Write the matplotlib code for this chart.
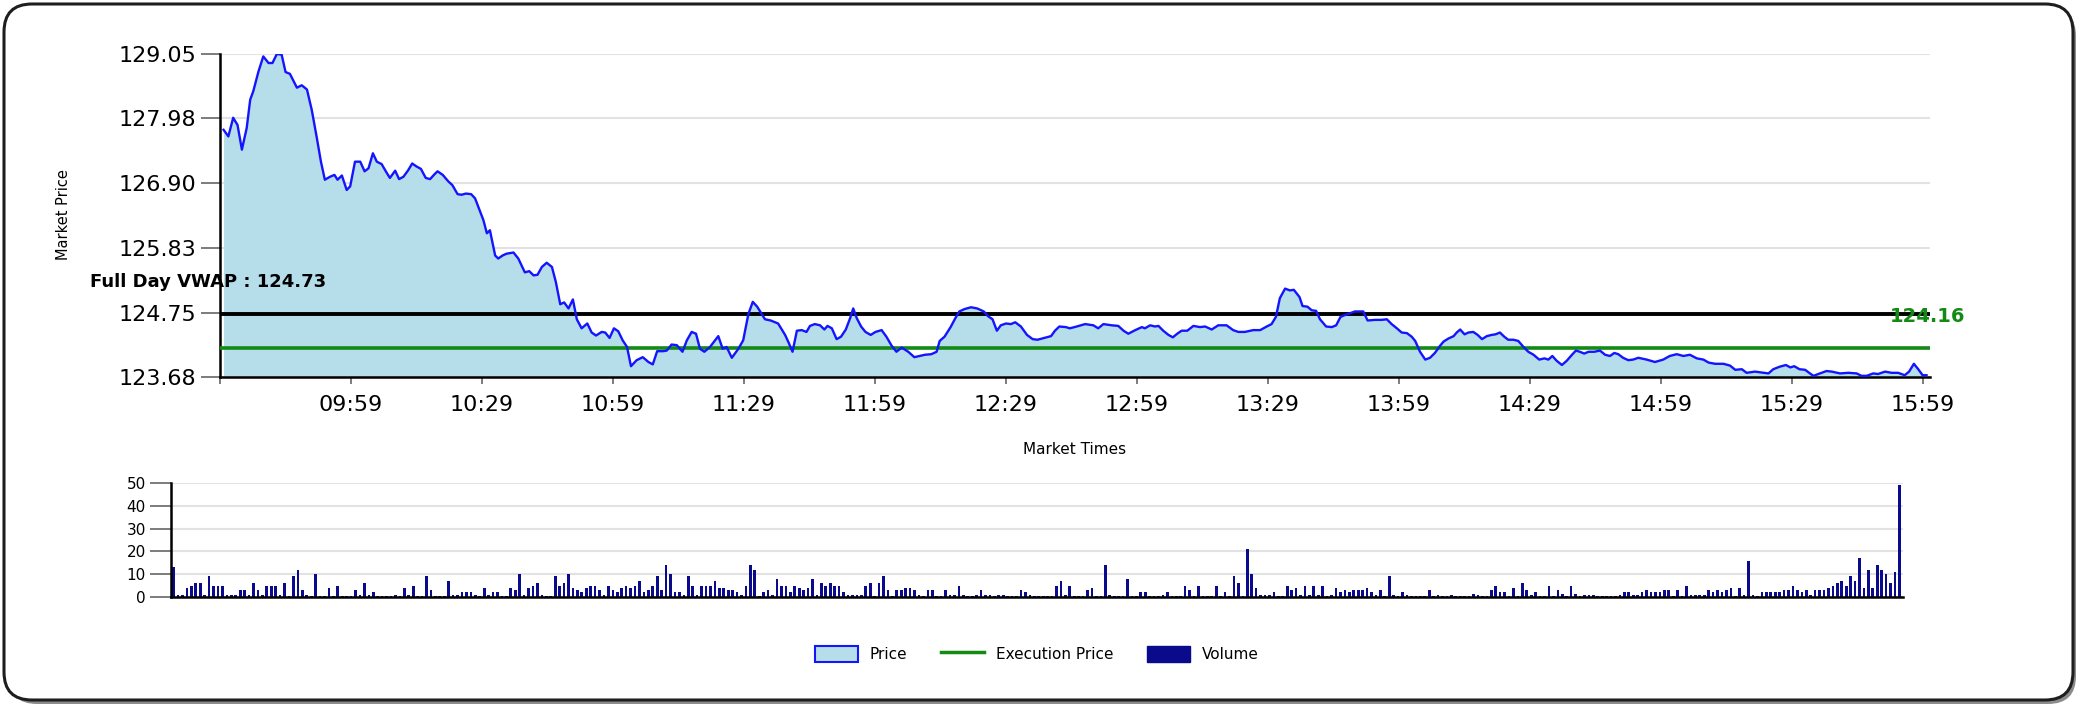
import matplotlib
matplotlib.use("Agg")
import matplotlib.pyplot as plt
from matplotlib.patches import FancyBboxPatch, Patch
from matplotlib.lines import Line2D

# price: minutes after 09:29 and market price
price_t = [0.8, 1.9, 3.0, 4.0, 5.0, 6.1, 6.9, 7.6, 8.8, 9.9, 11.1, 12.0, 13.0, 14.1, 15.0, 16.0, 17.6, 18.7,
           19.9, 21.0, 22.1, 23.1, 24.0, 25.2, 26.2, 26.9, 27.9, 29.0, 29.8, 30.9, 32.1, 33.1, 34.0, 35.0,
           35.9, 37.0, 38.2, 38.9, 40.1, 41.0, 42.0, 43.1, 44.0, 45.0, 46.0, 47.1, 48.1, 49.1, 49.8, 51.0,
           52.3, 53.2, 54.4, 55.3, 56.3, 57.5, 58.4, 59.3, 60.3, 61.1, 61.8, 63.0, 63.7, 64.7,
           65.6, 67.2, 68.3, 69.8, 70.8, 71.8, 72.7, 73.7, 74.8, 76.0, 76.9, 77.9, 78.8, 79.8, 80.8, 81.7,
           82.8, 84.1, 85.1, 86.1, 87.4, 88.2, 89.2, 90.2, 91.2, 92.2, 93.2, 94.1, 95.4, 96.8, 98.1, 99.1,
           100.1, 101.5, 102.3, 103.4, 104.6, 105.9, 106.9, 108.0, 109.0, 109.9, 110.9, 112.2, 114.1, 115.1,
           116.0, 117.2, 118.7, 119.8, 121.0, 122.0, 123.0, 124.8, 126.1, 127.8,
           129.4, 130.1, 131.1, 132.1, 133.2, 134.3, 135.1, 136.2, 137.4, 138.4, 139.1, 140.1, 141.2, 142.2,
           143.3, 144.3, 145.0, 145.8, 146.8, 147.8, 149.0, 150.1, 151.5, 152.6, 153.8, 154.9, 156.1, 157.6,
           159.0, 160.2, 161.4, 162.9, 164.1, 164.8, 165.9, 167.3, 168.4, 169.3, 170.5, 172.0, 173.4, 174.9,
           175.9, 176.9, 177.9, 178.8, 180.0, 181.1, 182.1, 183.4, 184.8, 186.1, 187.2, 188.8, 190.3, 191.2,
           192.2, 193.7,
           194.6, 196.2, 198.1, 200.0, 201.1, 202.3, 204.2, 205.7, 206.9, 208.0, 209.6, 211.1, 211.8, 213.0,
           214.1, 214.9, 216.0, 217.2, 218.2, 219.2, 220.2, 221.5, 222.9, 224.4, 225.6, 227.1, 228.6, 230.5,
           232.0, 233.2, 234.7, 236.6, 238.2, 239.7, 240.8, 241.8, 242.7, 243.9, 245.0, 245.9, 247.2, 247.9,
           249.0, 250.0, 251.0, 251.9, 253.3, 254.6, 255.6, 256.6, 257.6,
           259.9, 261.8, 262.8, 264.5, 266.0, 267.2, 268.3, 269.5, 270.6, 271.8, 272.9, 273.7, 274.8, 276.0,
           277.1, 278.2, 279.4, 280.2, 281.3, 282.5, 283.2, 284.0, 285.0, 285.9, 287.0, 288.0, 289.0, 290.1,
           291.2, 292.1, 293.1, 294.1, 295.0, 296.2, 297.3, 298.5, 299.6, 300.8, 302.1, 303.3, 304.2, 305.1,
           306.1, 307.3, 308.4, 309.6, 310.5, 311.4, 312.4, 313.4, 314.7, 316.0, 317.2, 318.3, 319.3, 320.2,
           321.3, 322.5, 323.6, 324.8,
           326.7, 328.6, 330.5, 332.0, 333.6, 335.1, 336.6, 338.2, 339.7, 340.9, 342.4, 344.3, 345.8, 347.0,
           348.5, 349.6, 351.5, 353.5, 354.6, 355.7, 357.1, 358.6, 359.6, 360.5, 361.7, 363.0, 364.1, 364.9,
           366.4, 367.9, 369.1, 371.0, 372.9, 374.8, 375.9, 377.1, 378.6, 379.7, 381.3, 382.8, 384.3, 385.8,
           386.8, 387.9, 388.9, 389.9, 390.8]
price_v = [127.79, 127.68, 127.99, 127.87, 127.46, 127.82, 128.29, 128.43, 128.76, 129.01, 128.90, 128.90,
           129.05, 129.04, 128.75, 128.72, 128.49, 128.53, 128.46, 128.12, 127.68, 127.26, 126.96, 127.01,
           127.04, 126.96, 127.03, 126.79, 126.85, 127.26, 127.26, 127.10, 127.15, 127.40, 127.26, 127.22,
           127.07, 126.99, 127.11, 126.97, 127.01, 127.12, 127.23, 127.18, 127.14, 126.99, 126.97, 127.05,
           127.10, 127.04, 126.93, 126.87, 126.72, 126.71, 126.73, 126.72, 126.65, 126.48, 126.29, 126.07,
           126.12, 125.70, 125.65, 125.70,
           125.73, 125.75, 125.65, 125.42, 125.44, 125.37, 125.38, 125.51, 125.58, 125.51, 125.26, 124.89,
           124.92, 124.82, 124.97, 124.64, 124.49, 124.57, 124.42, 124.37, 124.43, 124.42, 124.33, 124.49,
           124.44, 124.29, 124.18, 123.86, 123.96, 124.01, 123.93, 123.89, 124.11, 124.11, 124.12, 124.22,
           124.21, 124.10, 124.29, 124.43, 124.40, 124.15, 124.10, 124.18, 124.36, 124.15, 124.18, 124.00,
           124.15, 124.29, 124.73, 124.93, 124.85, 124.64, 124.62, 124.57,
           124.38, 124.27, 124.10, 124.45, 124.46, 124.43, 124.53, 124.56, 124.54, 124.47, 124.53, 124.49,
           124.31, 124.35, 124.47, 124.66, 124.82, 124.66, 124.52, 124.43, 124.38, 124.43, 124.46, 124.35,
           124.20, 124.10, 124.17, 124.10, 124.01, 124.03, 124.05, 124.06, 124.10, 124.28, 124.35, 124.51,
           124.66, 124.77, 124.81, 124.84, 124.82, 124.77, 124.69, 124.64, 124.45, 124.54, 124.57, 124.56,
           124.59, 124.52, 124.38, 124.31, 124.30, 124.33, 124.36, 124.45, 124.52, 124.51,
           124.49, 124.52, 124.56, 124.54, 124.49, 124.56, 124.54, 124.53, 124.45, 124.40, 124.46, 124.51,
           124.49, 124.54, 124.52, 124.53, 124.45, 124.38, 124.34, 124.40, 124.45, 124.45, 124.53, 124.51,
           124.52, 124.47, 124.54, 124.54, 124.46, 124.43, 124.43, 124.46, 124.46, 124.52, 124.56, 124.68,
           124.99, 125.15, 125.12, 125.13, 125.01, 124.86, 124.85, 124.79, 124.78, 124.64, 124.52, 124.51,
           124.54, 124.68, 124.71,
           124.77, 124.77, 124.62, 124.63, 124.63, 124.64, 124.56, 124.49, 124.42, 124.41, 124.35, 124.28,
           124.10, 123.97, 124.00, 124.08, 124.20, 124.27, 124.32, 124.36, 124.42, 124.47, 124.39, 124.42,
           124.43, 124.38, 124.31, 124.36, 124.38, 124.39, 124.42, 124.35, 124.30, 124.30, 124.28, 124.18,
           124.10, 124.05, 123.97, 123.99, 123.97, 124.03, 123.95, 123.88, 123.95, 124.05, 124.12, 124.10,
           124.07, 124.10, 124.10, 124.12, 124.05, 124.03, 124.08, 124.06, 124.00, 123.96, 123.97, 124.00,
           123.97, 123.93, 123.97, 124.03, 124.06, 124.03, 124.05, 123.99, 123.97, 123.92, 123.90, 123.90,
           123.87, 123.80, 123.81, 123.75, 123.77, 123.75, 123.74, 123.81, 123.85, 123.88, 123.84, 123.86,
           123.81, 123.80, 123.74, 123.70, 123.74, 123.78, 123.77, 123.74, 123.75, 123.74, 123.70, 123.70,
           123.74, 123.73, 123.77, 123.75, 123.75, 123.71, 123.77, 123.90, 123.81, 123.71, 123.71]

# volume per minute bar
volume = [13, 1, 1, 4, 5, 6, 6, 1, 9, 5, 5, 5, 1, 1, 1, 3, 3, 1, 6, 3, 1, 5, 5, 5, 1, 6, 0.5, 9, 12, 3,
          1, 0.5, 10, 0.5, 0.5, 4, 0.5, 5, 0.5, 0.5, 0.5, 3, 1, 6, 1, 2, 0.5, 0.5, 0.5, 0.5, 1, 0.5, 4, 1,
          5, 0.5, 0.5, 9, 3, 0.5, 0.5, 0.5, 7, 1, 1, 2, 2, 2, 1, 0.5, 4, 1, 2, 2, 0.5, 0.5, 4, 3, 10, 1,
          4, 5, 6, 1, 0.5, 0.5, 9, 5, 6, 10, 4, 3, 2, 4, 5, 5, 3, 1, 5, 3, 2, 4, 5, 4, 5, 7, 2, 3, 5, 9,
          3, 14, 10, 2, 2, 1, 9, 5, 1, 5, 5,
          5, 7, 4, 4, 3, 3, 2, 1, 5, 14, 12, 0.5, 2, 3, 1, 8, 5, 5, 2, 5, 4, 3, 4, 8, 1, 6, 5, 6, 5, 5,
          2, 1, 1, 1, 1, 5, 6, 0.5, 6, 9, 3, 0.5, 3, 3, 4, 4, 3, 1, 0.5, 3, 3, 0.5, 0.5, 3, 1, 1, 5, 1,
          0.5, 0.5, 1, 3, 1, 1, 0.5, 1, 1, 0.5, 0.5, 0.5, 3, 2, 1, 0.5, 0.5, 0.5, 0.5, 0.5, 5, 7, 1, 5,
          0.5, 0.5, 0.5, 3, 4, 0.5, 0.5, 14, 1, 0.5, 0.5, 0.5, 8, 0.5, 0.5, 2, 2, 0.5, 0.5, 0.5, 1, 2,
          0.5, 0.5, 0.5, 5, 3, 0.5, 5, 0.5, 0.5, 0.5, 5, 0.5, 2, 0.5, 9, 6, 0.5, 21, 10, 4, 1, 1, 1, 2,
          0.5, 0.5, 5, 3, 4, 1, 5, 1, 5, 1, 5, 0.5, 1, 4, 2, 3, 2, 3, 3, 3, 4, 2, 1, 3,
          0.5, 9, 1, 0.5, 2, 1, 0.5, 0.5, 0.5, 0.5, 3, 0.5, 1, 0.5, 0.5, 1, 0.5, 0.5, 0.5, 0.5, 1.5, 1,
          0.5, 0.5, 3, 5, 2, 2, 0.5, 4, 0.5, 6, 3, 1, 2, 0.5, 0.5, 5, 0.5, 3, 1.5, 0.5, 5, 1.5, 0.5, 1,
          1, 1, 0.5, 0.5, 0.5, 0.5, 0.5, 1, 2, 2, 1, 1, 2, 3, 2, 2, 2, 3, 3, 0.5, 3, 0.5, 5, 1, 1, 1, 1,
          3, 2, 3, 2, 3, 4, 0.5, 4, 1, 16, 1, 0.5, 2, 2, 2, 2, 2, 3, 3, 5, 3, 2, 3, 1, 3, 3, 3, 4, 5, 6,
          7, 5, 9, 7, 17, 4, 12, 4, 14, 12, 10, 6, 11, 49]

vwap = 124.73
exec_price = 124.16
y_ticks = [123.68, 124.75, 125.83, 126.90, 127.98, 129.05]
x_ticks = [0, 30, 60, 90, 120, 150, 180, 210, 240, 270, 300, 330, 360, 390]
x_labels = ["", "09:59", "10:29", "10:59", "11:29", "11:59", "12:29", "12:59", "13:29",
            "13:59", "14:29", "14:59", "15:29", "15:59"]

fill_col = "#b6deea"
line_col = "#1414ff"
green = "#138a13"
navy = "#0a0a8c"

fig = plt.figure(figsize=(20.8, 7.05), dpi=100)

# rounded frame with a shadow
shadow = FancyBboxPatch((0.09, 0.01), 20.67, 6.96, boxstyle="round,pad=0,rounding_size=0.28",
                        transform=fig.dpi_scale_trans, facecolor="#8c8c8c", edgecolor="none", zorder=-2)
frame = FancyBboxPatch((0.04, 0.05), 20.69, 6.96, boxstyle="round,pad=0,rounding_size=0.28",
                       transform=fig.dpi_scale_trans, facecolor="white", edgecolor="#1e1e1e",
                       linewidth=2.2, zorder=-1)
fig.add_artist(shadow)
fig.add_artist(frame)

# ---- price chart ----
ax = fig.add_axes([0.1058, 0.4652, 0.8221, 0.4582])
ax.set_facecolor("none")
ax.fill_between(price_t, price_v, y_ticks[0], color=fill_col, linewidth=0, zorder=1)
ax.axhline(vwap, color="black", linewidth=2.8, zorder=3)
ax.axhline(exec_price, color=green, linewidth=2.6, zorder=3)
ax.plot(price_t, price_v, color=line_col, linewidth=1.7, zorder=4)
ax.set_xlim(0, 391.6)
ax.set_ylim(y_ticks[0], y_ticks[-1])
ax.set_yticks(y_ticks)
ax.set_yticklabels(["%.2f" % v for v in y_ticks])
ax.set_xticks(x_ticks)
ax.set_xticklabels(x_labels)
ax.grid(axis="y", color="#e2e2e2", linewidth=1.5, zorder=0)
ax.set_axisbelow(True)
for s in ["top", "right"]:
    ax.spines[s].set_visible(False)
for s in ["left", "bottom"]:
    ax.spines[s].set_linewidth(1.8)
    ax.spines[s].set_color("black")
ax.tick_params(axis="y", length=14, width=1.2, color="#666666", labelsize=16, pad=3)
ax.tick_params(axis="x", length=5, width=1.2, color="#666666", labelsize=16, pad=8)

fig.text(90 / 2080, 1 - 282 / 705, "Full Day VWAP : %.2f" % vwap, fontsize=13, fontweight="bold",
         va="center", ha="left")
fig.text(1890 / 2080, 1 - 317 / 705, "%.2f" % exec_price, fontsize=14, fontweight="bold",
         color=green, va="center", ha="left")
fig.text(64 / 2080, 1 - 215 / 705, "Market Price", rotation=90, fontsize=10.5, va="center", ha="center")
fig.text(1075 / 2080, 1 - 450 / 705, "Market Times", fontsize=11, va="center", ha="center")

# ---- volume chart ----
axv = fig.add_axes([0.0822, 0.1532, 0.8327, 0.1617])
axv.set_facecolor("none")
axv.bar(range(len(volume)), volume, width=0.6, color=navy, zorder=2)
axv.set_xlim(-0.6, len(volume) - 0.2)
axv.set_ylim(0, 50)
axv.set_yticks([0, 10, 20, 30, 40, 50])
axv.set_xticks([])
axv.grid(axis="y", color="#e2e2e2", linewidth=1.5, zorder=0)
axv.set_axisbelow(True)
for s in ["top", "right"]:
    axv.spines[s].set_visible(False)
for s in ["left", "bottom"]:
    axv.spines[s].set_linewidth(1.8)
    axv.spines[s].set_color("black")
axv.tick_params(axis="y", length=15, width=1.2, color="#666666", labelsize=11, pad=3)

# ---- legend ----
handles = [Patch(facecolor=fill_col, edgecolor=line_col, linewidth=1.5),
           Line2D([0], [0], color=green, linewidth=2.5),
           Patch(facecolor=navy, edgecolor=navy)]
fig.legend(handles, ["Price", "Execution Price", "Volume"], loc="center",
           bbox_to_anchor=(1037 / 2080, 1 - 654 / 705), ncol=3, frameon=False, fontsize=11,
           handlelength=2.8, handleheight=1.3, columnspacing=2.2, handletextpad=0.8)

fig.savefig("out.png", dpi=100)
